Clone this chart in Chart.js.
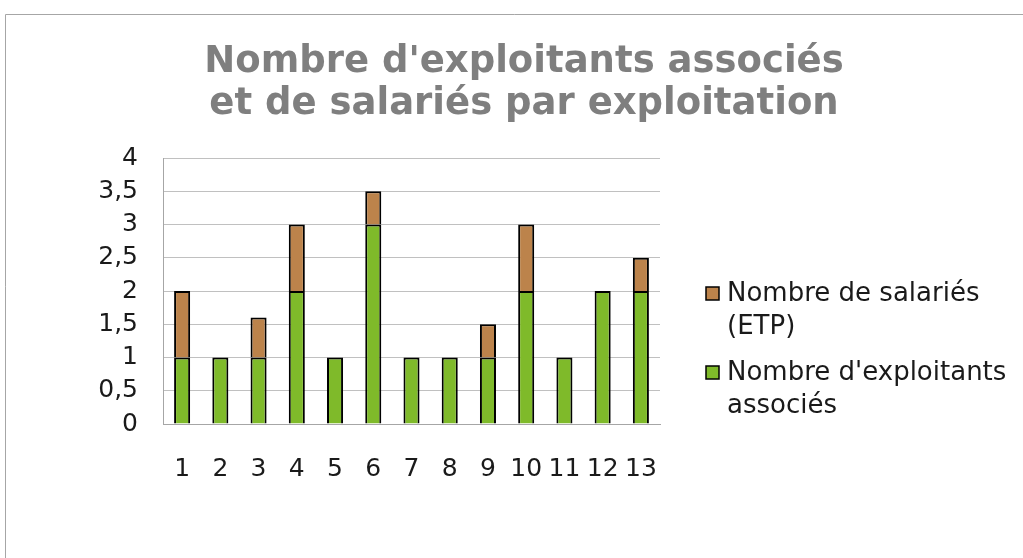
<!DOCTYPE html>
<html>
<head>
<meta charset="utf-8">
<script src="https://cdn.jsdelivr.net/npm/chart.js@4.4.1/dist/chart.umd.min.js"></script>
<style>
  html, body { margin: 0; padding: 0; background: #fff; }
  #wrap { position: relative; width: 1023px; height: 558px; }
</style>
</head>
<body>
<div id="wrap"><canvas id="chart" width="1023" height="558"></canvas></div>
<script>
const categories = ["1", "2", "3", "4", "5", "6", "7", "8", "9", "10", "11", "12", "13"];
const exploitants = [1, 1, 1, 2, 1, 3, 1, 1, 1, 2, 1, 2, 2];
const salaries = [1, 0, 0.6, 1, 0, 0.5, 0, 0, 0.5, 1, 0, 0, 0.5];
const titleLines = ["Nombre d'exploitants associés", "et de salariés par exploitation"];
const legendItems = [
  { lines: ["Nombre de salariés", "(ETP)"], color: "#bc834b" },
  { lines: ["Nombre d'exploitants", "associés"], color: "#7fba2a" }
];

const FONT = "'DejaVu Sans', Verdana, sans-serif";

// frame, title and legend drawn by hand
const decor = {
  id: "decor",
  beforeDraw(chart) {
    const ctx = chart.ctx;
    ctx.save();
    ctx.strokeStyle = "#a6a6a6";
    ctx.lineWidth = 1;
    ctx.beginPath();
    ctx.moveTo(5.5, 558);
    ctx.lineTo(5.5, 14.5);
    ctx.lineTo(1023, 14.5);
    ctx.stroke();
    ctx.restore();
  },
  afterDraw(chart) {
    const ctx = chart.ctx;
    ctx.save();
    ctx.fillStyle = "#7f7f7f";
    ctx.font = "bold 37px " + FONT;
    ctx.textAlign = "center";
    ctx.textBaseline = "middle";
    titleLines.forEach((t, i) => ctx.fillText(t, 524, 62 + i * 42));

    ctx.font = "26px " + FONT;
    ctx.textAlign = "left";
    let y = 294;
    legendItems.forEach(item => {
      ctx.fillStyle = item.color;
      ctx.fillRect(706, y - 7, 13, 13);
      ctx.strokeStyle = "#000";
      ctx.lineWidth = 1.5;
      ctx.strokeRect(706, y - 7, 13, 13);
      ctx.fillStyle = "#1a1a1a";
      item.lines.forEach((l, i) => ctx.fillText(l, 727, y + i * 33));
      y += 79;
    });
    ctx.restore();
  }
};

new Chart(document.getElementById("chart"), {
  type: "bar",
  data: {
    labels: categories,
    datasets: [
      {
        label: "Nombre d'exploitants associés",
        data: exploitants,
        backgroundColor: "#7fba2a",
        borderColor: "#000",
        borderWidth: 2,
        categoryPercentage: 1,
        barPercentage: 0.42
      },
      {
        label: "Nombre de salariés (ETP)",
        data: salaries,
        backgroundColor: "#bc834b",
        borderColor: "#000",
        borderWidth: 2,
        categoryPercentage: 1,
        barPercentage: 0.42
      }
    ]
  },
  options: {
    responsive: false,
    animation: false,
    layout: { padding: { top: 158, left: 0, right: 363, bottom: 0 } },
    plugins: {
      legend: { display: false },
      title: { display: false },
      tooltip: { enabled: false }
    },
    scales: {
      x: {
        stacked: true,
        grid: { display: false, drawTicks: false },
        border: { color: "#a6a6a6", width: 1 },
        ticks: { color: "#1a1a1a", font: { family: FONT, size: 25 }, padding: 30, maxRotation: 0, autoSkip: false },
        afterFit(scale) { scale.height = 134; }
      },
      y: {
        stacked: true,
        min: 0,
        max: 4,
        grid: { color: "#c0c0c0", drawTicks: false },
        border: { color: "#a6a6a6", width: 1 },
        ticks: {
          stepSize: 0.5,
          color: "#1a1a1a",
          font: { family: FONT, size: 25 },
          padding: 25,
          callback: v => String(v).replace(".", ",")
        },
        afterFit(scale) { scale.width = 163; }
      }
    }
  },
  plugins: [decor]
});
</script>
</body>
</html>
